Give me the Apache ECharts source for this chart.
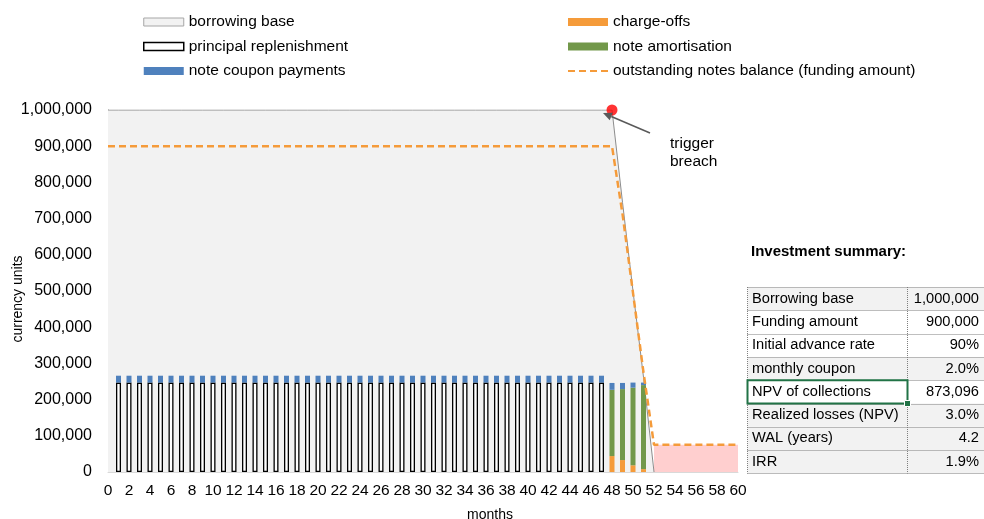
<!DOCTYPE html>
<html>
<head>
<meta charset="utf-8">
<script src="https://cdn.jsdelivr.net/npm/echarts@6/dist/echarts.min.js"></script>
<style>
  html, body { margin: 0; padding: 0; background: #ffffff; }
  #chart { width: 984px; height: 519px; }
</style>
</head>
<body>
<div id="chart"></div>
<script>
// Month categories 0..60
const months = [
  '0','1','2','3','4','5','6','7','8','9',
  '10','11','12','13','14','15','16','17','18','19',
  '20','21','22','23','24','25','26','27','28','29',
  '30','31','32','33','34','35','36','37','38','39',
  '40','41','42','43','44','45','46','47','48','49',
  '50','51','52','53','54','55','56','57','58','59',
  '60'
];

// Collateral pool (borrowing base), drops after the trigger at month 48
const borrowingBase = [
  1000000,1000000,1000000,1000000,1000000,1000000,1000000,1000000,1000000,1000000,
  1000000,1000000,1000000,1000000,1000000,1000000,1000000,1000000,1000000,1000000,
  1000000,1000000,1000000,1000000,1000000,1000000,1000000,1000000,1000000,1000000,
  1000000,1000000,1000000,1000000,1000000,1000000,1000000,1000000,1000000,1000000,
  1000000,1000000,1000000,1000000,1000000,1000000,1000000,1000000,1000000,745000,
  500000,262000,0,null,null,null,null,null,null,null,
  null
];

// Principal collections reinvested during the revolving period
const principalReplenishment = [
  null,247000,247000,247000,247000,247000,247000,247000,247000,247000,
  247000,247000,247000,247000,247000,247000,247000,247000,247000,247000,
  247000,247000,247000,247000,247000,247000,247000,247000,247000,247000,
  247000,247000,247000,247000,247000,247000,247000,247000,247000,247000,
  247000,247000,247000,247000,247000,247000,247000,247000,null,null,
  null,null,null,null,null,null,null,null,null,null,
  null
];

const chargeOffs = [
  null,null,null,null,null,null,null,null,null,null,
  null,null,null,null,null,null,null,null,null,null,
  null,null,null,null,null,null,null,null,null,null,
  null,null,null,null,null,null,null,null,null,null,
  null,null,null,null,null,null,null,null,44000,33000,
  18500,8000,null,null,null,null,null,null,null,null,
  null
];

const noteAmortisation = [
  null,null,null,null,null,null,null,null,null,null,
  null,null,null,null,null,null,null,null,null,null,
  null,null,null,null,null,null,null,null,null,null,
  null,null,null,null,null,null,null,null,null,null,
  null,null,null,null,null,null,null,null,183000,196000,
  214500,232000,null,null,null,null,null,null,null,null,
  null
];

const couponPayments = [
  null,19000,19000,19000,19000,19000,19000,19000,19000,19000,
  19000,19000,19000,19000,19000,19000,19000,19000,19000,19000,
  19000,19000,19000,19000,19000,19000,19000,19000,19000,19000,
  19000,19000,19000,19000,19000,19000,19000,19000,19000,19000,
  19000,19000,19000,19000,19000,19000,19000,19000,19000,17000,
  14000,7000,null,null,null,null,null,null,null,null,
  null
];

const notesBalance = [
  900000,900000,900000,900000,900000,900000,900000,900000,900000,900000,
  900000,900000,900000,900000,900000,900000,900000,900000,900000,900000,
  900000,900000,900000,900000,900000,900000,900000,900000,900000,900000,
  900000,900000,900000,900000,900000,900000,900000,900000,900000,900000,
  900000,900000,900000,900000,900000,900000,900000,900000,900000,713000,
  495000,275000,75000,75000,75000,75000,75000,75000,75000,75000,
  75000
];

// Notes left unpaid once the collateral is exhausted
const unpaidNotes = [
  null,null,null,null,null,null,null,null,null,null,
  null,null,null,null,null,null,null,null,null,null,
  null,null,null,null,null,null,null,null,null,null,
  null,null,null,null,null,null,null,null,null,null,
  null,null,null,null,null,null,null,null,null,null,
  null,null,75000,75000,75000,75000,75000,75000,75000,75000,
  75000
];

const triggerMonth = 48;
const triggerValue = 1000000;

const summaryLabels = ['Borrowing base','Funding amount','Initial advance rate','monthly coupon',
  'NPV of collections','Realized losses (NPV)','WAL (years)','IRR'];
const summaryValues = ['1,000,000','900,000','90%','2.0%','873,096','3.0%','4.2','1.9%'];
const summaryShaded = [true,false,false,true,false,true,true,true];

const FONT = "'Liberation Sans', Arial, sans-serif";
const FS = 15.5;
const C_BLUE = '#4F81BD';
const C_ORANGE = '#F59B3A';
const C_GREEN = '#72984A';
const C_BASE = '#F2F2F2';
const C_PINK = '#FFCFCF';

const chart = echarts.init(document.getElementById('chart'), null, { renderer: 'canvas' });

const legendText = { fontSize: FS, color: '#000', fontFamily: FONT, lineHeight: 16 };

chart.setOption({
  animation: false,
  backgroundColor: '#ffffff',
  textStyle: { fontFamily: FONT },
  grid: { left: 108, right: 246, top: 110, bottom: 47, containLabel: false, outerBoundsMode: 'none' },
  legend: [
    {
      orient: 'vertical', left: 143, top: 14, padding: 0, itemWidth: 40, itemHeight: 8, itemGap: 8.5,
      selectedMode: false, textStyle: legendText,
      data: [
        { name: 'borrowing base', icon: 'rect', itemStyle: { color: C_BASE, borderColor: '#A6A6A6', borderWidth: 1 } },
        { name: 'principal replenishment', icon: 'rect', itemStyle: { color: '#ffffff', borderColor: '#000000', borderWidth: 1.5 } },
        { name: 'note coupon payments', icon: 'rect' }
      ]
    },
    {
      orient: 'vertical', left: 567, top: 14, padding: 0, itemWidth: 40, itemHeight: 8, itemGap: 8.5,
      selectedMode: false, textStyle: legendText,
      data: [
        { name: 'charge-offs', icon: 'rect' },
        { name: 'note amortisation', icon: 'rect' },
        { name: 'outstanding notes balance (funding amount)', itemStyle: { opacity: 0 } }
      ]
    }
  ],
  xAxis: {
    type: 'category',
    data: months,
    boundaryGap: false,
    name: 'months',
    nameLocation: 'middle',
    nameGap: 36,
    nameMoveOverlap: false,
    nameTextStyle: { fontSize: 14, color: '#000', fontFamily: FONT, padding: [0, 0, 0, 134] },
    axisLine: { lineStyle: { color: '#D9D9D9', width: 1 } },
    axisTick: { show: false },
    axisLabel: { interval: 1, fontSize: FS, color: '#000', fontFamily: FONT, margin: 11 },
    splitLine: { show: false }
  },
  yAxis: {
    type: 'value',
    min: 0, max: 1000000, interval: 100000,
    name: 'currency units',
    nameLocation: 'middle',
    nameGap: 83,
    nameMoveOverlap: false,
    nameTextStyle: { fontSize: 14, color: '#000', fontFamily: FONT, padding: [0, 16, 0, 0] },
    axisLine: { show: true, lineStyle: { color: '#8C8C8C', width: 1 } },
    axisTick: { show: false },
    splitLine: { show: false },
    axisLabel: {
      fontSize: 16, color: '#000', fontFamily: FONT, margin: 16,
      formatter: v => v.toLocaleString('en-US')
    }
  },
  series: [
    {
      name: 'borrowing base', type: 'line', data: borrowingBase, symbol: 'none',
      lineStyle: { color: '#8C8C8C', width: 1 },
      itemStyle: { color: C_BASE },
      areaStyle: { color: C_BASE, opacity: 1 }, z: 1
    },
    {
      name: 'unpaid notes', type: 'line', data: unpaidNotes, symbol: 'none',
      lineStyle: { width: 0 }, areaStyle: { color: C_PINK, opacity: 1 }, z: 1
    },
    {
      name: 'principal replenishment', type: 'bar', stack: 'cash', data: principalReplenishment,
      barWidth: 5, itemStyle: { color: '#ffffff', borderColor: '#000000', borderWidth: 1.3 }, z: 3
    },
    {
      name: 'charge-offs', type: 'bar', stack: 'cash', data: chargeOffs,
      barWidth: 5, itemStyle: { color: C_ORANGE }, z: 3
    },
    {
      name: 'note amortisation', type: 'bar', stack: 'cash', data: noteAmortisation,
      barWidth: 5, itemStyle: { color: C_GREEN }, z: 3
    },
    {
      name: 'note coupon payments', type: 'bar', stack: 'cash', data: couponPayments,
      barWidth: 5, itemStyle: { color: C_BLUE }, z: 3
    },
    {
      name: 'outstanding notes balance (funding amount)', type: 'line', data: notesBalance, symbol: 'none',
      lineStyle: { color: C_ORANGE, width: 2.5, type: [7, 4] },
      itemStyle: { color: C_ORANGE }, z: 4
    },
    {
      name: 'trigger', type: 'scatter', data: [[triggerMonth, triggerValue]],
      symbolSize: 11, itemStyle: { color: '#FF0000' }, z: 6
    }
  ]
});

// Annotation arrow pointing at the trigger point, plus the summary table
const tp = chart.convertToPixel({ xAxisIndex: 0, yAxisIndex: 0 }, [triggerMonth, triggerValue]);
const head = [tp[0] - 9, tp[1] + 3];
const tail = [tp[0] + 38, tp[1] + 23];
const ang = Math.atan2(head[1] - tail[1], head[0] - tail[0]);
const hl = 9, hw = 4;
const base = [head[0] - hl * Math.cos(ang), head[1] - hl * Math.sin(ang)];
const arrowHead = [
  head,
  [base[0] + hw * Math.sin(ang), base[1] - hw * Math.cos(ang)],
  [base[0] - hw * Math.sin(ang), base[1] + hw * Math.cos(ang)]
];

const graphics = [
  { type: 'line', shape: { x1: tail[0], y1: tail[1], x2: base[0], y2: base[1] },
    style: { stroke: '#595959', lineWidth: 1.5 }, z: 10 },
  { type: 'polygon', shape: { points: arrowHead }, style: { fill: '#595959' }, z: 10 },
  { type: 'text', left: tp[0] + 58, top: tp[1] + 25,
    style: { text: 'trigger\nbreach', font: FS + 'px ' + FONT, fill: '#000', lineHeight: 18 }, z: 10 },
  { type: 'text', left: 751, top: 244,
    style: { text: 'Investment summary:', font: 'bold 15px ' + FONT, fill: '#000' }, z: 10 }
];

const tX0 = 747.5, tX1 = 907.5, tXR = 984, tY0 = 287, rowH = 23.3;
summaryLabels.forEach((lab, i) => {
  const y = tY0 + i * rowH;
  if (summaryShaded[i]) {
    graphics.push({ type: 'rect', shape: { x: tX0, y: y, width: tXR - tX0, height: rowH },
      style: { fill: '#F2F2F2' }, z: 8 });
  }
  graphics.push({ type: 'text', x: 752, y: y + rowH / 2,
    style: { text: lab, font: '14.67px ' + FONT, fill: '#000', textVerticalAlign: 'middle', textAlign: 'left' }, z: 10 });
  graphics.push({ type: 'text', x: 979, y: y + rowH / 2,
    style: { text: summaryValues[i], font: '14.67px ' + FONT, fill: '#000', textVerticalAlign: 'middle', textAlign: 'right' }, z: 10 });
});
for (let i = 0; i <= summaryLabels.length; i++) {
  const y = Math.round(tY0 + i * rowH) + 0.5;
  graphics.push({ type: 'line', shape: { x1: tX0, y1: y, x2: tXR, y2: y },
    style: { stroke: '#7F7F7F', lineWidth: 1, lineDash: [1, 1] }, z: 9 });
}
[tX0, tX1].forEach(x => {
  graphics.push({ type: 'line', shape: { x1: x, y1: tY0, x2: x, y2: tY0 + summaryLabels.length * rowH },
    style: { stroke: '#7F7F7F', lineWidth: 1, lineDash: [1, 1] }, z: 9 });
});
// Highlighted cell frame around "NPV of collections"
const selY = tY0 + 4 * rowH;
graphics.push({ type: 'rect', shape: { x: tX0, y: selY, width: tX1 - tX0, height: rowH },
  style: { fill: 'none', stroke: '#217346', lineWidth: 2 }, z: 11 });
graphics.push({ type: 'rect', shape: { x: tX1 - 3, y: selY + rowH - 3, width: 6, height: 6 },
  style: { fill: '#217346', stroke: '#ffffff', lineWidth: 1 }, z: 12 });

chart.setOption({ graphic: graphics });
</script>
</body>
</html>
